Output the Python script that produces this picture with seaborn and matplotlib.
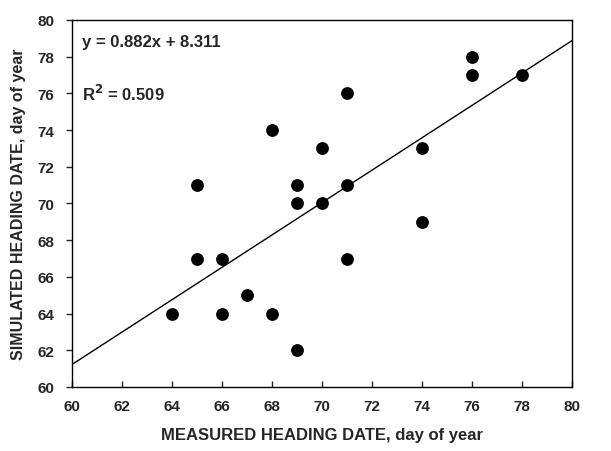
import numpy as np
import pandas as pd
import matplotlib
matplotlib.use("Agg")
import matplotlib.pyplot as plt
import seaborn as sns

# measured vs simulated heading date (day of year)
measured = [64, 65, 65, 66, 66, 67, 68, 68, 69, 69, 69, 70, 70, 71, 71, 71, 74, 74, 76, 76, 78]
simulated = [64, 71, 67, 67, 64, 65, 74, 64, 71, 70, 62, 73, 70, 76, 71, 67, 73, 69, 78, 77, 77]

slope = 0.882
intercept = 8.311
r2 = 0.509
ticks = list(range(60, 81, 2))

sns.set_style("white")
plt.rcParams['font.family'] = ['Liberation Sans', 'DejaVu Sans']
plt.rcParams['font.weight'] = 'bold'

fig = plt.figure(figsize=(6.11, 4.52), dpi=100)
ax = fig.add_axes([0.118, 0.1416, 0.818, 0.812])

df = pd.DataFrame({'measured': measured, 'simulated': simulated})
line_x = np.array([60, 80])
fit = pd.DataFrame({'x': line_x, 'y': slope * line_x + intercept})
sns.lineplot(data=fit, x='x', y='y', ax=ax, color='black', linewidth=1.0)
sns.scatterplot(data=df, x='measured', y='simulated', ax=ax, color='black',
                s=85, edgecolor='black', linewidth=0, zorder=3)

ax.set_xlim(60, 80)
ax.set_ylim(60, 80)
ax.set_xticks(ticks)
ax.set_yticks(ticks)
ax.tick_params(axis='x', direction='in', length=4, width=1, labelsize=11, pad=9, bottom=True)
ax.tick_params(axis='y', direction='out', length=4, width=1, labelsize=11, pad=9, left=True)
for lab in ax.get_xticklabels() + ax.get_yticklabels():
    lab.set_fontweight('bold')
for sp in ax.spines.values():
    sp.set_color('black')
    sp.set_linewidth(1.0)

ax.set_xlabel('MEASURED HEADING DATE, day of year', fontsize=12, fontweight='bold', labelpad=10)
ax.set_ylabel('SIMULATED HEADING DATE, day of year', fontsize=11.5, fontweight='bold', labelpad=8)

ax.text(0.02, 0.94, f'y = {slope}x + {intercept}', transform=ax.transAxes,
        fontsize=12, fontweight='bold', va='center')
ax.text(0.02, 0.80, f'R$^\\mathbf{{2}}$ = {r2}', transform=ax.transAxes,
        fontsize=12, fontweight='bold', va='center')

fig.savefig('out.png', dpi=100)
